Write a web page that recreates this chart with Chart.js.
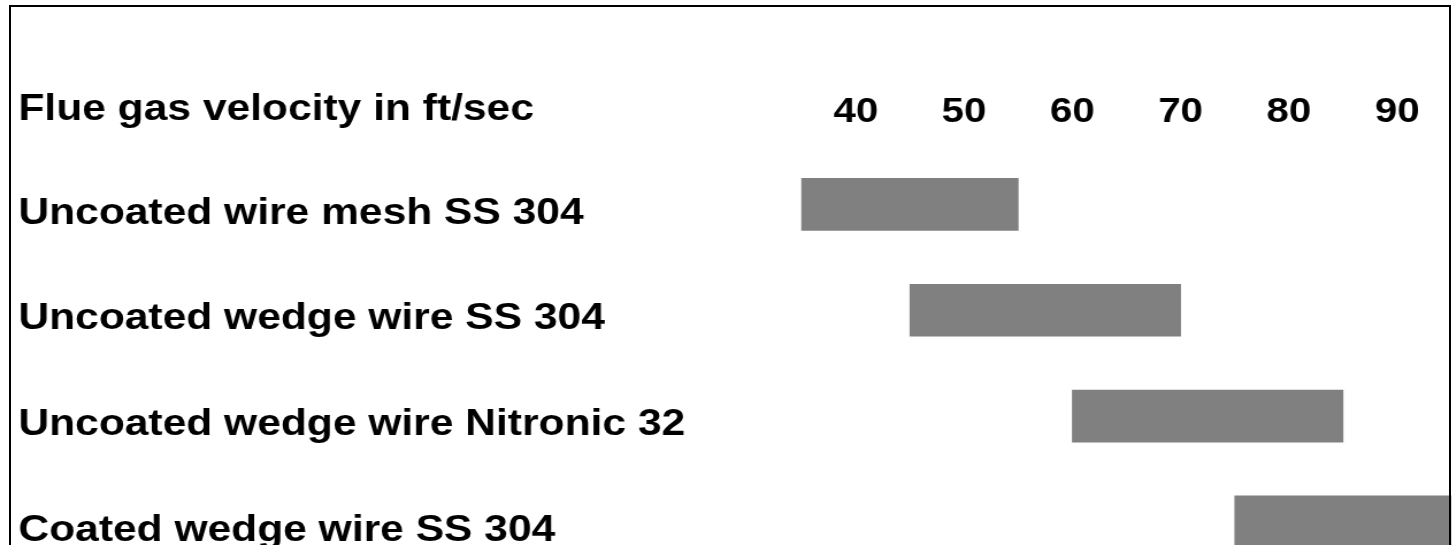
<!DOCTYPE html>
<html>
<head>
<meta charset="utf-8">
<script src="https://cdn.jsdelivr.net/npm/chart.js@4/dist/chart.umd.min.js"></script>
<style>
  html, body { margin: 0; padding: 0; background: #fff; overflow: hidden; }
  body { width: 1455px; height: 545px; position: relative; }
  #wrap { position: absolute; left: 0; top: 0; width: 1265px; height: 600px; transform: scaleX(1.15); transform-origin: 0 0; }
  #frame { position: absolute; left: 9px; top: 5px; width: 1442px; height: 600px; box-sizing: border-box;
           border: 2px solid #000; border-bottom: none; pointer-events: none; }
</style>
</head>
<body>
<div id="wrap"><canvas id="mycanvas" width="1265" height="600"></canvas></div>
<div id="frame"></div>
<script>
// operating range of each mist eliminator type, ft/sec
var headerLabel = "Flue gas velocity in ft/sec";
var rows = [
  "Uncoated wire mesh SS 304",
  "Uncoated wedge wire SS 304",
  "Uncoated wedge wire Nitronic 32",
  "Coated wedge wire SS 304"
];
var lowVelocity = [35, 45, 60, 75];
var highVelocity = [55, 70, 85, 95];
var velocityTicks = [40, 50, 60, 70, 80, 90];

var ranges = [];
for (var i in rows) {
  ranges.push([lowVelocity[i], highVelocity[i]]);
}

// header text sits on the same line as the velocity ticks
var headerPlugin = {
  id: "header",
  afterDraw: function(chart) {
    var ctx = chart.ctx;
    ctx.save();
    ctx.font = "bold 37px 'Liberation Sans', Arial, sans-serif";
    ctx.fillStyle = "#000";
    ctx.textAlign = "left";
    ctx.textBaseline = "alphabetic";
    ctx.fillText(headerLabel, chart.scales.y.left, chart.chartArea.top - 32);
    ctx.restore();
  }
};

var ctx = document.getElementById("mycanvas");

var rangeChart = new Chart(ctx, {
  type: "bar",
  data: {
    labels: rows,
    datasets: [
      {
        data: ranges,
        backgroundColor: "#808080",
        borderWidth: 0,
        barThickness: 52
      }
    ]
  },
  plugins: [headerPlugin],
  options: {
    responsive: false,
    animation: false,
    indexAxis: "y",
    layout: { padding: { left: 16, right: 3, top: 0, bottom: 22 } },
    plugins: {
      legend: { display: false },
      tooltip: { enabled: false }
    },
    scales: {
      x: {
        type: "linear",
        position: "top",
        min: 30,
        max: 95,
        afterBuildTicks: function(scale) {
          scale.ticks = velocityTicks.map(function(v) { return { value: v }; });
        },
        afterFit: function(scale) { scale.height = 151.5; },
        grid: { display: false, drawTicks: false },
        border: { display: false },
        ticks: {
          color: "#000",
          padding: 18,
          font: { family: "'Liberation Sans Narrow', 'Liberation Sans', sans-serif", size: 35, weight: "bold" }
        }
      },
      y: {
        afterFit: function(scale) { scale.width = 634; },
        grid: { display: false, drawTicks: false },
        border: { display: false },
        ticks: {
          color: "#000",
          crossAlign: "far",
          labelOffset: 9,
          font: { family: "'Liberation Sans', Arial, sans-serif", size: 37, weight: "bold" }
        }
      }
    }
  }
});
</script>
</body>
</html>
